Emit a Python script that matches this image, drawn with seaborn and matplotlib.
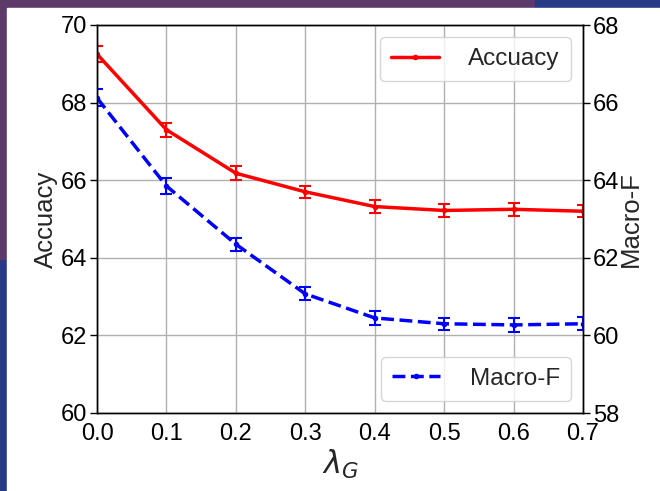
import numpy as np
import pandas as pd
import matplotlib
matplotlib.use("Agg")
import matplotlib.pyplot as plt
from matplotlib.patches import Rectangle
import seaborn as sns

# ─── DATA ─────────────────────────────────────────────────
lambda_g  = [0.0, 0.1, 0.2, 0.3, 0.4, 0.5, 0.6, 0.7]
accuracy  = [69.25, 67.30, 66.18, 65.70, 65.32, 65.22, 65.25, 65.20]
acc_err   = [0.20, 0.18, 0.18, 0.16, 0.17, 0.16, 0.17, 0.16]
macro_f   = [66.12, 63.85, 62.35, 61.07, 60.45, 60.30, 60.27, 60.30]
mf_err    = [0.22, 0.20, 0.17, 0.17, 0.18, 0.16, 0.17, 0.17]

left_ticks  = [60, 62, 64, 66, 68, 70]
right_ticks = [58, 60, 62, 64, 66, 68]
x_ticks     = [0.0, 0.1, 0.2, 0.3, 0.4, 0.5, 0.6, 0.7]

df = pd.DataFrame({"lam": lambda_g, "acc": accuracy, "mf": macro_f})

sns.set_style("white")
plt.rcParams["font.family"] = ["Liberation Sans", "DejaVu Sans"]
plt.rcParams["mathtext.fontset"] = "dejavusans"

fig = plt.figure(figsize=(6.6, 4.91), dpi=100)

# slide background around the white picture
fig.patch.set_facecolor("#5e3a6b")
fig.add_artist(Rectangle((535 / 660, 1 - 8 / 491), 1, 1, transform=fig.transFigure,
                         color="#283a85", zorder=0))
fig.add_artist(Rectangle((0, 0), 7 / 660, 1 - 260 / 491, transform=fig.transFigure,
                         color="#283a85", zorder=0))
fig.add_artist(Rectangle((7 / 660, 0), 1, 1 - 8 / 491, transform=fig.transFigure,
                         color="white", zorder=0))

ax = fig.add_axes([97 / 660, 1 - 413 / 491, 486 / 660, 388 / 491])
ax2 = ax.twinx()

# ─── ACCURACY (left axis) ─────────────────────────────────
sns.lineplot(data=df, x="lam", y="acc", ax=ax, color="red", lw=2.5,
             marker="o", markersize=4, markeredgewidth=0, label="Accuacy",
             legend=False)
ax.errorbar(lambda_g, accuracy, yerr=acc_err, fmt="none", ecolor="red",
            elinewidth=1.5, capsize=4, capthick=1.5)

# ─── MACRO-F (right axis) ─────────────────────────────────
sns.lineplot(data=df, x="lam", y="mf", ax=ax2, color="blue", lw=2.5,
             linestyle="--", marker="o", markersize=4, markeredgewidth=0,
             label="Macro-F", legend=False)
ax2.errorbar(lambda_g, macro_f, yerr=mf_err, fmt="none", ecolor="blue",
             elinewidth=1.5, capsize=4, capthick=1.5)

ax.set_xlim(0, 0.7)
ax.set_ylim(60, 70)
ax2.set_ylim(58, 68)
ax.set_xticks(x_ticks)
ax.set_yticks(left_ticks)
ax2.set_yticks(right_ticks)
ax.grid(True, color="#b0b0b0", lw=1)

for a in (ax, ax2):
    a.tick_params(labelsize=17, length=5, width=1, pad=2, colors="black")
    for s in a.spines.values():
        s.set_color("black")
        s.set_linewidth(1)

ax.set_xlabel(r"$\lambda_G$", fontsize=22, labelpad=2)
ax.set_ylabel("Accuacy", fontsize=18.5, labelpad=2)
ax2.set_ylabel("Macro-F", fontsize=18.5, labelpad=0)

ax.legend(loc="upper right", fontsize=17.5, handlelength=2.0, borderpad=0.45,
          handletextpad=1.2)
ax2.legend(loc="lower right", fontsize=17.5, handlelength=2.0, borderpad=0.45,
           handletextpad=1.2)

fig.savefig("out.png", dpi=100, facecolor=fig.get_facecolor())
